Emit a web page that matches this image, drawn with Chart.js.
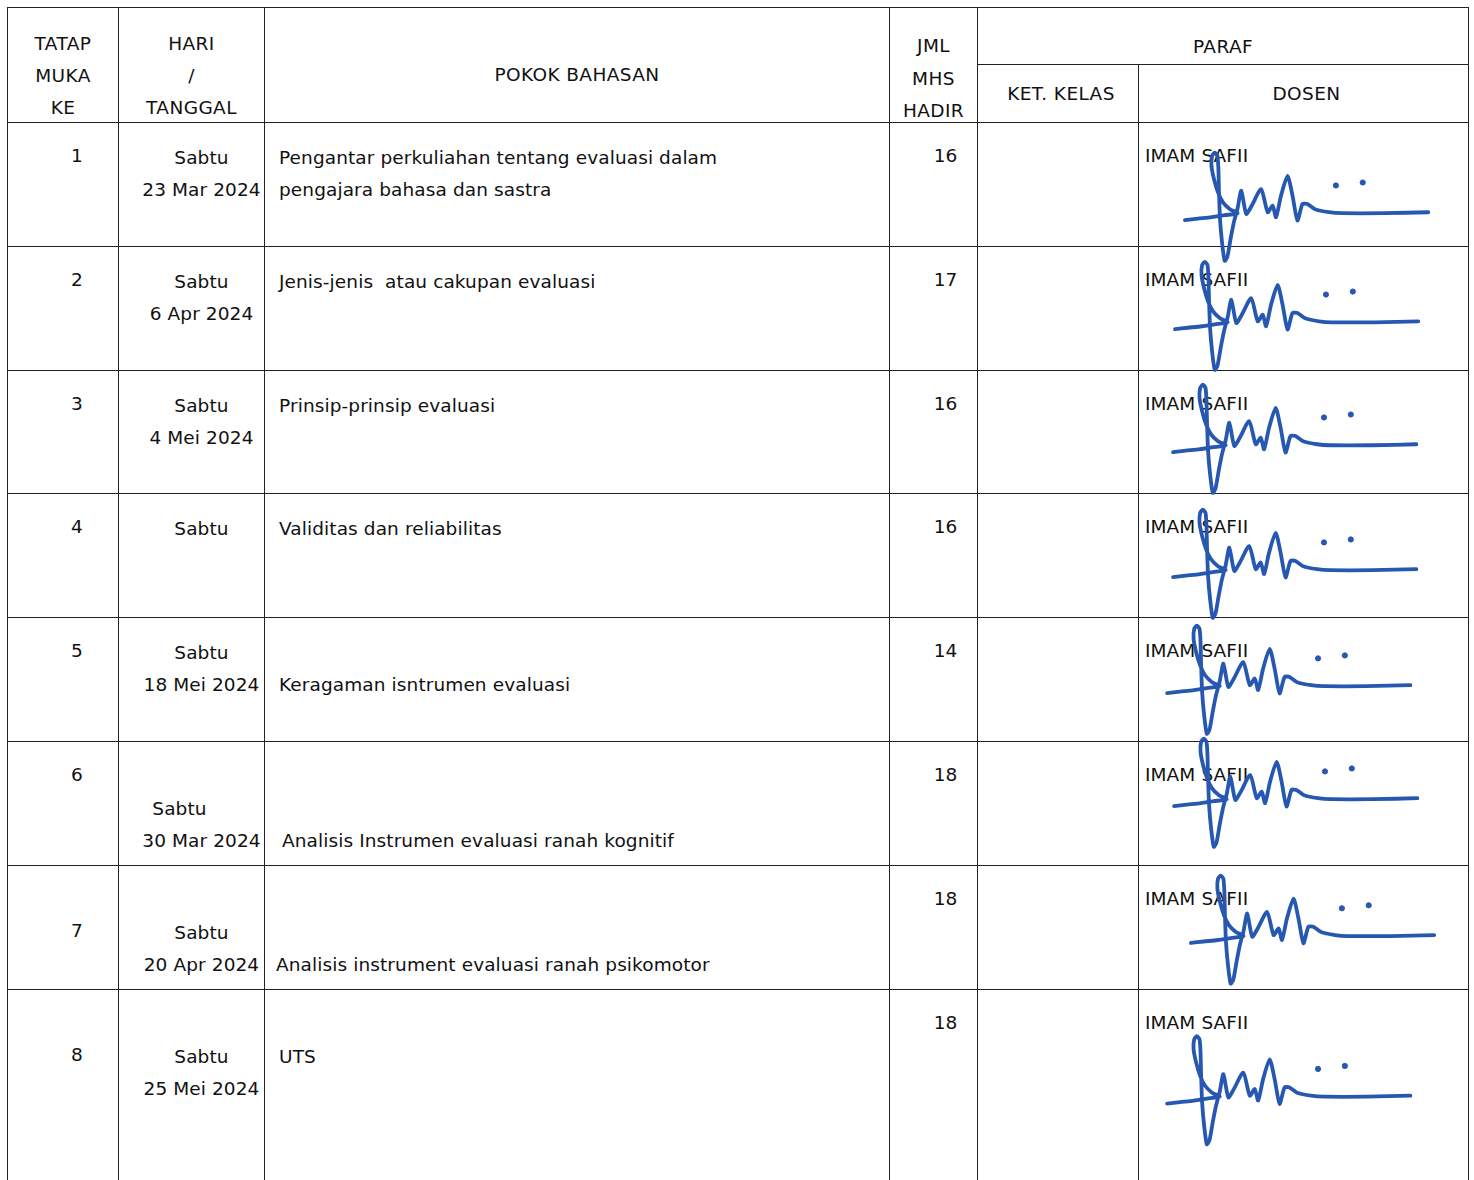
<!DOCTYPE html>
<html>
<head>
<meta charset="utf-8">
<script src="https://cdn.jsdelivr.net/npm/chart.js@4.4.1/dist/chart.umd.min.js"></script>
<style>
  html, body { margin: 0; padding: 0; background: #fff; }
  body { width: 1474px; height: 1180px; overflow: hidden; position: relative;
         font-family: "DejaVu Sans", sans-serif; font-size: 18.5px; letter-spacing: 0.1px; color: #111; }
  table { position: absolute; left: 7px; top: 7px; border-collapse: collapse; table-layout: fixed; }
  td { border: 1.5px solid #222; padding: 0; vertical-align: top; line-height: 32px; white-space: pre; }
  .hd { text-align: center; letter-spacing: 0.4px; }
  .hd div { position: relative; }
  .c1 { text-align: center; padding-left: 28px; padding-top: 17px; }
  .c2 { text-align: center; padding-left: 20px; padding-top: 19px; }
  .c3 { padding-left: 14px; padding-top: 19px; }
  .c4 { text-align: center; padding-left: 24px; padding-top: 17px; }
  .c6 { padding-left: 6px; padding-top: 17px; }
  #sig { position: absolute; left: 0; top: 0; pointer-events: none; }
</style>
</head>
<body>
<table id="tbl">
  <colgroup>
    <col style="width:111px"><col style="width:146px"><col style="width:625px">
    <col style="width:88px"><col style="width:161px"><col style="width:330px">
  </colgroup>
  <tbody id="body"></tbody>
</table>
<canvas id="sig" width="1474" height="1180"></canvas>
<script>
const meetings = [1, 2, 3, 4, 5, 6, 7, 8];
const days = ['Sabtu', 'Sabtu', 'Sabtu', 'Sabtu', 'Sabtu', 'Sabtu', 'Sabtu', 'Sabtu'];
const dates = ['23 Mar 2024', '6 Apr 2024', '4 Mei 2024', '', '18 Mei 2024', '30 Mar 2024', '20 Apr 2024', '25 Mei 2024'];
const topics = [
  'Pengantar perkuliahan tentang evaluasi dalam\npengajara bahasa dan sastra',
  'Jenis-jenis  atau cakupan evaluasi',
  'Prinsip-prinsip evaluasi',
  'Validitas dan reliabilitas',
  'Keragaman isntrumen evaluasi',
  'Analisis Instrumen evaluasi ranah kognitif',
  'Analisis instrument evaluasi ranah psikomotor',
  'UTS'
];
const attendance = [16, 17, 16, 16, 14, 18, 18, 18];
const lecturer = 'IMAM SAFII';

// signature stroke (one shape, reused in every row)
const sigMain = [
  [32, 118], [45, 116.5], [59, 115], [72, 113], [85, 111],
  [77, 106.7], [70.3, 100], [65.3, 90], [61.3, 76.7], [58.7, 63.3], [59.3, 53.3], [62, 50],
  [64.7, 53.3], [65.7, 66.7], [66.3, 90], [67.3, 116.7], [69.3, 140], [72, 159],
  [74.7, 155], [78, 136.7], [81.3, 120], [85, 106], [88.7, 88.3],
  [93.7, 111.7], [99.3, 103.3], [108.7, 86.7], [115.3, 110], [120.3, 103.3], [123.7, 115],
  [128.7, 93.3], [135.3, 73.3], [140.3, 93.3], [145.3, 118.3], [150.3, 101.7], [155.3, 101.7],
  [163, 107], [177, 110], [190, 111], [233, 111], [277, 110]
];
const sigDots = [[184, 83], [211, 80]];

// layout
const rowHeights = [124, 124, 123, 124, 124, 124, 124, 215];
const numLine = [1, 1, 1, 1, 1, 1, 2, 2];
const dayLine = [1, 1, 1, 1, 1, 2, 2, 2];
const topicLine = [1, 1, 1, 1, 2, 3, 3, 2];
const dayShift = [0, 0, 0, 0, 0, -22, 0, 0];
const topicShift = [0, 0, 0, 0, 0, 3, -3, 0];
const sigShift = [[18, -24], [8, -38], [6, -38], [6, -35], [0, -42], [7, -52], [24, -38], [0, 0]];
const dosenLeft = 1138;
const rowTops = [123, 247, 371, 494, 618, 742, 866, 990];

const pad = n => '\n'.repeat(n - 1);
let html = '';
html += '<tr style="height:57px">' +
  '<td class="hd" rowspan="2"><div style="top:20px">TATAP\nMUKA\nKE</div></td>' +
  '<td class="hd" rowspan="2"><div style="top:20px">HARI\n/\nTANGGAL</div></td>' +
  '<td class="hd" rowspan="2"><div style="top:51px">POKOK BAHASAN</div></td>' +
  '<td class="hd" rowspan="2"><div style="top:22px;line-height:32.5px">JML\nMHS\nHADIR</div></td>' +
  '<td class="hd" colspan="2"><div style="top:23px">PARAF</div></td></tr>';
html += '<tr style="height:58px">' +
  '<td class="hd" style="vertical-align:middle;padding-left:6px">KET. KELAS</td>' +
  '<td class="hd" style="vertical-align:middle;padding-left:6px">DOSEN</td></tr>';
meetings.forEach((m, i) => {
  html += '<tr style="height:' + rowHeights[i] + 'px">' +
    '<td class="c1">' + pad(numLine[i]) + m + '</td>' +
    '<td class="c2">' + pad(dayLine[i]) +
      '<span style="position:relative;left:' + dayShift[i] + 'px">' + days[i] + '</span>' +
      (dates[i] ? '\n' + dates[i] : '') + '</td>' +
    '<td class="c3">' + pad(topicLine[i]) +
      '<span style="position:relative;left:' + topicShift[i] + 'px">' + topics[i] + '</span></td>' +
    '<td class="c4">' + attendance[i] + '</td>' +
    '<td></td>' +
    '<td class="c6">' + lecturer + '</td></tr>';
});
document.getElementById('body').innerHTML = html;

const ink = 'rgb(38, 88, 178)';
const datasets = [];
meetings.forEach((m, i) => {
  const ox = dosenLeft + sigShift[i][0];
  const oy = rowTops[i] + sigShift[i][1];
  const toPt = p => ({ x: ox + p[0], y: oy + p[1] });
  datasets.push({
    type: 'line',
    data: sigMain.map(toPt),
    borderColor: ink,
    borderWidth: 3.8,
    tension: 0.22,
    pointRadius: 0,
    fill: false,
    borderCapStyle: 'round',
    borderJoinStyle: 'round'
  });
  datasets.push({
    type: 'scatter',
    data: sigDots.map(toPt),
    backgroundColor: ink,
    borderColor: ink,
    pointRadius: 2.6
  });
});

new Chart(document.getElementById('sig'), {
  type: 'line',
  data: { datasets },
  options: {
    responsive: false,
    animation: false,
    parsing: false,
    layout: { padding: 0 },
    plugins: { legend: { display: false }, tooltip: { enabled: false } },
    scales: {
      x: { type: 'linear', min: 0, max: 1474, display: false },
      y: { type: 'linear', min: 0, max: 1180, reverse: true, display: false }
    }
  }
});
</script>
</body>
</html>
